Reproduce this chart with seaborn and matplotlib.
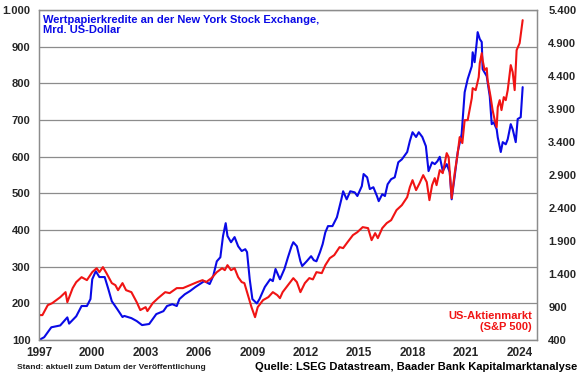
import matplotlib
matplotlib.use("Agg")

import matplotlib.pyplot as plt
import matplotlib.ticker as mticker
import pandas as pd
import seaborn as sns

# ── Data ──────────────────────────────────────────────────────────────────────
# NYSE margin debt, bn USD (left axis)
margin_years = [
    1997.0, 1997.3, 1997.7, 1998.2, 1998.6, 1998.7, 1999.1, 1999.4, 1999.7, 1999.9,
    2000.0, 2000.2, 2000.4, 2000.7, 2000.9, 2001.1, 2001.4, 2001.7, 2001.8, 2002.2,
    2002.5, 2002.8, 2003.2, 2003.6, 2004.0, 2004.2, 2004.5, 2004.75, 2004.9, 2005.2,
    2005.5, 2005.8, 2006.05, 2006.3, 2006.6, 2006.8, 2007.0, 2007.2, 2007.35, 2007.5,
    2007.6, 2007.8, 2008.0, 2008.2, 2008.4, 2008.6, 2008.7, 2008.85, 2009.0, 2009.25,
    2009.4, 2009.7, 2010.0, 2010.15, 2010.3, 2010.55, 2010.8, 2011.0, 2011.2, 2011.3,
    2011.5, 2011.7, 2011.8, 2012.05, 2012.3, 2012.45, 2012.6, 2012.8, 2012.95, 2013.1,
    2013.25, 2013.5, 2013.75, 2014.0, 2014.1, 2014.3, 2014.5, 2014.75, 2014.9, 2015.15,
    2015.25, 2015.45, 2015.6, 2015.8, 2016.0, 2016.1, 2016.3, 2016.45, 2016.6, 2016.8,
    2017.0, 2017.2, 2017.4, 2017.7, 2017.85, 2018.0, 2018.2, 2018.35, 2018.55, 2018.75,
    2018.9, 2019.1, 2019.25, 2019.4, 2019.53, 2019.7, 2019.92, 2020.09, 2020.2, 2020.37,
    2020.54, 2020.76, 2020.93, 2021.1, 2021.33, 2021.38, 2021.49, 2021.61, 2021.66, 2021.78,
    2021.89, 2021.94, 2022.17, 2022.34, 2022.45, 2022.56, 2022.73, 2022.79, 2022.96, 2023.07,
    2023.24, 2023.35, 2023.52, 2023.63, 2023.8, 2023.91, 2024.08, 2024.19,
]
margin_debt = [
    100, 108, 135, 140, 162, 145, 165, 193, 193, 212,
    266, 288, 272, 272, 240, 206, 185, 163, 166, 160,
    152, 141, 144, 171, 179, 193, 198, 193, 212, 225,
    234, 245, 253, 261, 253, 275, 315, 326, 384, 419,
    384, 367, 381, 356, 343, 348, 340, 266, 212, 200,
    212, 245, 266, 261, 294, 266, 294, 326, 356, 367,
    356, 315, 302, 315, 329, 318, 315, 340, 362, 394,
    411, 411, 435, 484, 506, 484, 506, 503, 493, 520,
    553, 544, 512, 517, 493, 479, 498, 493, 525, 539,
    544, 585, 593, 613, 643, 667, 654, 667, 654, 629,
    561, 585, 580, 588, 600, 561, 580, 558, 484, 547,
    613, 662, 776, 812, 847, 885, 858, 913, 940, 921,
    913, 839, 820, 765, 689, 694, 675, 653, 613, 640,
    634, 648, 689, 675, 640, 703, 708, 790,
]

# S&P 500 index (right axis)
spx_years = [
    1997.0, 1997.2, 1997.5, 1997.75, 1998.2, 1998.5, 1998.6, 1998.9, 1999.1, 1999.4,
    1999.7, 2000.0, 2000.25, 2000.4, 2000.6, 2000.8, 2001.1, 2001.3, 2001.45, 2001.7,
    2001.9, 2002.2, 2002.5, 2002.7, 2003.0, 2003.1, 2003.4, 2003.7, 2004.1, 2004.35,
    2004.75, 2005.1, 2005.5, 2005.9, 2006.2, 2006.4, 2006.7, 2007.0, 2007.3, 2007.45,
    2007.6, 2007.8, 2008.0, 2008.2, 2008.4, 2008.55, 2008.75, 2008.95, 2009.15, 2009.3,
    2009.6, 2009.9, 2010.15, 2010.4, 2010.55, 2010.7, 2011.0, 2011.3, 2011.5, 2011.7,
    2011.95, 2012.2, 2012.4, 2012.6, 2012.9, 2013.1, 2013.35, 2013.6, 2013.9, 2014.1,
    2014.35, 2014.65, 2014.9, 2015.2, 2015.5, 2015.7, 2015.9, 2016.05, 2016.3, 2016.55,
    2016.8, 2017.1, 2017.4, 2017.7, 2017.85, 2018.0, 2018.2, 2018.4, 2018.6, 2018.8,
    2018.95, 2019.1, 2019.25, 2019.35, 2019.53, 2019.7, 2019.92, 2020.03, 2020.2, 2020.37,
    2020.54, 2020.65, 2020.8, 2020.93, 2021.1, 2021.33, 2021.38, 2021.55, 2021.72, 2021.78,
    2021.89, 2021.94, 2022.05, 2022.17, 2022.22, 2022.39, 2022.5, 2022.62, 2022.73, 2022.79,
    2022.9, 2023.0, 2023.13, 2023.24, 2023.35, 2023.52, 2023.63, 2023.74, 2023.85, 2024.02,
    2024.19,
]
spx = [
    779, 779, 930, 960, 1050, 1127, 975, 1188, 1279, 1354,
    1309, 1430, 1490, 1430, 1506, 1415, 1264, 1233, 1157, 1264,
    1157, 1127, 975, 855, 900, 840, 960, 1036, 1127, 1112,
    1188, 1188, 1233, 1279, 1309, 1279, 1339, 1430, 1490, 1460,
    1536, 1460, 1490, 1354, 1279, 1264, 1082, 900, 748, 900,
    1006, 1052, 1127, 1082, 1036, 1127, 1233, 1339, 1279, 1127,
    1264, 1340, 1320, 1430, 1415, 1536, 1642, 1688, 1809, 1794,
    1885, 1991, 2036, 2112, 2097, 1915, 2021, 1945, 2097, 2173,
    2218, 2370, 2445, 2566, 2718, 2824, 2673, 2779, 2900, 2794,
    2521, 2748, 2854, 2748, 2976, 2930, 3233, 3173, 2551, 2930,
    3233, 3476, 3385, 3733, 3733, 4066, 4218, 4188, 4385, 4597,
    4748, 4642, 4491, 4521, 4339, 4082, 3885, 3733, 3627, 3930,
    4036, 3885, 4082, 4036, 4188, 4567, 4460, 4188, 4794, 4900,
    5248,
]

year_ticks = list(range(1997, 2025, 3))
left_ticks = list(range(100, 1001, 100))
right_ticks = list(range(400, 5401, 500))

BLUE = "#0A0AE6"
RED = "#F01414"
GRID = "#8C8C8C"

margin_df = pd.DataFrame({"year": margin_years, "value": margin_debt})
spx_df = pd.DataFrame({"year": spx_years, "value": spx})

sns.set_theme(style="white")
plt.rcParams["font.family"] = ["Liberation Sans", "DejaVu Sans"]


def de_fmt(v, _):
    return f"{v:,.0f}".replace(",", ".")


fig = plt.figure(figsize=(5.8, 3.75), dpi=100)
ax = fig.add_axes([0.067, 0.093, 0.859, 0.88])

sns.lineplot(data=margin_df, x="year", y="value", color=BLUE, lw=1.5, ax=ax)
ax.set_xlim(1997, 2025)
ax.set_ylim(100, 1000)
ax.set_yticks(left_ticks)
ax.set_xticks(year_ticks)
ax.yaxis.set_major_formatter(mticker.FuncFormatter(de_fmt))
ax.grid(axis="y", color=GRID, lw=0.9)
ax.set_axisbelow(True)
ax.set_xlabel("")
ax.set_ylabel("")
ax.tick_params(axis="y", length=0, pad=6, labelsize=8)
ax.tick_params(axis="x", direction="out", length=3, width=0.8, color=GRID,
               pad=2, labelsize=8.5)
for lab in ax.get_xticklabels() + ax.get_yticklabels():
    lab.set_fontweight("bold")

ax2 = ax.twinx()
sns.lineplot(data=spx_df, x="year", y="value", color=RED, lw=1.5, ax=ax2)
ax2.set_ylim(400, 5400)
ax2.set_yticks(right_ticks)
ax2.yaxis.set_major_formatter(mticker.FuncFormatter(de_fmt))
ax2.set_ylabel("")
ax2.tick_params(axis="y", length=0, pad=8, labelsize=8)
for lab in ax2.get_yticklabels():
    lab.set_fontweight("bold")

for a in (ax, ax2):
    for sp in a.spines.values():
        sp.set_color(GRID)
        sp.set_linewidth(0.9)

ax.text(0.008, 0.985, "Wertpapierkredite an der New York Stock Exchange,\nMrd. US-Dollar",
        transform=ax.transAxes, ha="left", va="top", color=BLUE,
        fontsize=8, fontweight="bold", linespacing=1.0)
ax.text(0.99, 0.025, "US-Aktienmarkt\n(S&P 500)", transform=ax.transAxes,
        ha="right", va="bottom", color=RED, fontsize=8, fontweight="bold",
        linespacing=1.05)

fig.text(0.03, 0.01, "Stand: aktuell zum Datum der Veröffentlichung",
         ha="left", va="bottom", fontsize=6, fontweight="bold", color="#202020")
fig.text(0.995, 0.008, "Quelle: LSEG Datastream, Baader Bank Kapitalmarktanalyse",
         ha="right", va="bottom", fontsize=8, fontweight="bold", color="black")

fig.savefig("out.png", dpi=100)
plt.close(fig)
